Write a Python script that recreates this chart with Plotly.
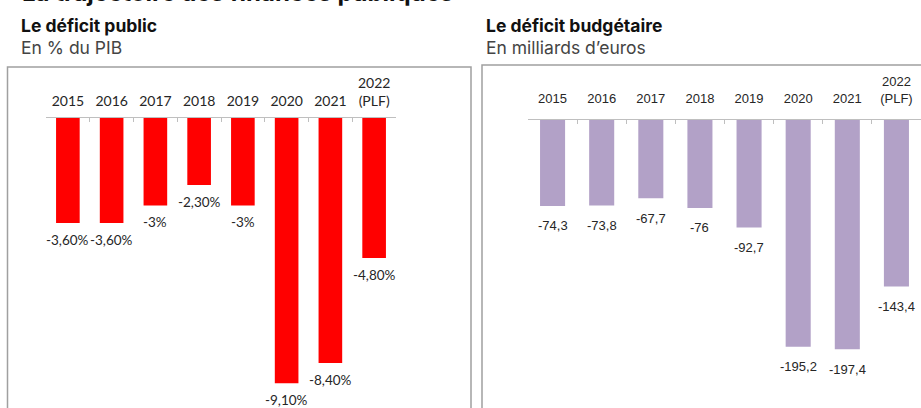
import plotly.graph_objects as go

W, H = 921, 408

years = ["2015", "2016", "2017", "2018", "2019", "2020", "2021", "2022<br>(PLF)"]
deficit_public = [-3.6, -3.6, -3.0, -2.3, -3.0, -9.1, -8.4, -4.8]
deficit_public_labels = ["-3,60%", "-3,60%", "-3%", "-2,30%", "-3%", "-9,10%", "-8,40%", "-4,80%"]
deficit_budget = [-74.3, -73.8, -67.7, -76.0, -92.7, -195.2, -197.4, -143.4]
deficit_budget_labels = ["-74,3", "-73,8", "-67,7", "-76", "-92,7", "-195,2", "-197,4", "-143,4"]

main_title = "La trajectoire des finances publiques"
left_title = "Le déficit public"
left_sub = "En % du PIB"
right_title = "Le déficit budgétaire"
right_sub = "En milliards d’euros"

RED = "#FF0000"
PURPLE = "#B2A1C7"
TXT = "#262626"
LEFT_FONT = "Lato, Carlito, Calibri, sans-serif"
RIGHT_FONT = "Liberation Sans Narrow, Liberation Sans, Arial, sans-serif"
TITLE_FONT = "Inter, Roboto, sans-serif"


def px_x(p):
    return p / W


def px_y(p):
    return 1 - p / H


fig = go.Figure()
fig.add_trace(go.Bar(x=years, y=deficit_public, marker=dict(color=RED, line=dict(width=0)),
                     xaxis="x", yaxis="y", hoverinfo="skip"))
fig.add_trace(go.Bar(x=years, y=deficit_budget, marker=dict(color=PURPLE, line=dict(width=0)),
                     xaxis="x2", yaxis="y2", hoverinfo="skip"))

annotations = []
for i, (v, t) in enumerate(zip(deficit_public, deficit_public_labels)):
    annotations.append(dict(x=i, y=v, xref="x", yref="y", text=t, showarrow=False,
                            yshift=-17, yanchor="middle",
                            font=dict(family=LEFT_FONT, size=13.5, color=TXT)))
for i, (v, t) in enumerate(zip(deficit_budget, deficit_budget_labels)):
    annotations.append(dict(x=i, y=v, xref="x2", yref="y2", text=t, showarrow=False,
                            yshift=-20, yanchor="middle",
                            font=dict(family=RIGHT_FONT, size=13, color=TXT)))

# titles
annotations += [
    dict(x=px_x(20), y=px_y(9), xref="paper", yref="paper", xanchor="left", yanchor="bottom",
         text="<b>" + main_title + "</b>", showarrow=False,
         font=dict(family=TITLE_FONT, size=24, color="#111111")),
    dict(x=px_x(19), y=px_y(25), xref="paper", yref="paper", xanchor="left", yanchor="middle",
         text="<b>" + left_title + "</b>", showarrow=False,
         font=dict(family=TITLE_FONT, size=17.5, color="#111111")),
    dict(x=px_x(19), y=px_y(47), xref="paper", yref="paper", xanchor="left", yanchor="middle",
         text=left_sub, showarrow=False,
         font=dict(family=TITLE_FONT, size=17.5, color="#444444")),
    dict(x=px_x(484), y=px_y(25), xref="paper", yref="paper", xanchor="left", yanchor="middle",
         text="<b>" + right_title + "</b>", showarrow=False,
         font=dict(family=TITLE_FONT, size=17.5, color="#111111")),
    dict(x=px_x(484), y=px_y(47), xref="paper", yref="paper", xanchor="left", yanchor="middle",
         text=right_sub, showarrow=False,
         font=dict(family=TITLE_FONT, size=17.5, color="#444444")),
]

shapes = [
    dict(type="rect", xref="paper", yref="paper", x0=px_x(7.5), x1=px_x(471), y0=px_y(420), y1=px_y(67),
         line=dict(color="#A0A0A0", width=1.5), layer="below"),
    dict(type="rect", xref="paper", yref="paper", x0=px_x(482), x1=px_x(940), y0=px_y(420), y1=px_y(65),
         line=dict(color="#A0A0A0", width=1.5), layer="below"),
]

left_top = 118
right_top = 119.5
left_scale = 29.16
right_scale = 1.164

axis_common = dict(type="category", side="top", showline=True, linecolor="#BFBFBF", linewidth=1,
                   ticks="inside", tickson="boundaries", ticklen=4, tickcolor="#BFBFBF",
                   showgrid=False, zeroline=False, fixedrange=True, range=[-0.5, 7.5])

fig.update_layout(
    width=W, height=H,
    margin=dict(l=0, r=0, t=0, b=0),
    paper_bgcolor="white", plot_bgcolor="rgba(0,0,0,0)",
    showlegend=False,
    barmode="group",
    xaxis=dict(domain=[px_x(46), px_x(396)], anchor="y", ticklabelstandoff=5,
               tickfont=dict(family=LEFT_FONT, size=14, color=TXT), **axis_common),
    yaxis=dict(domain=[0, px_y(left_top)], range=[-(H - left_top) / left_scale, 0],
               visible=False, fixedrange=True),
    xaxis2=dict(domain=[px_x(528), px_x(921)], anchor="y2", ticklabelstandoff=10,
                tickfont=dict(family=RIGHT_FONT, size=13, color=TXT), **axis_common),
    yaxis2=dict(domain=[0, px_y(right_top)], range=[-(H - right_top) / right_scale, 0],
                visible=False, fixedrange=True),
    annotations=annotations,
    shapes=shapes,
)
fig.update_traces(width=0.54, selector=dict(xaxis="x"))
fig.update_traces(width=0.51, selector=dict(xaxis="x2"))

fig.write_html("out.html")
